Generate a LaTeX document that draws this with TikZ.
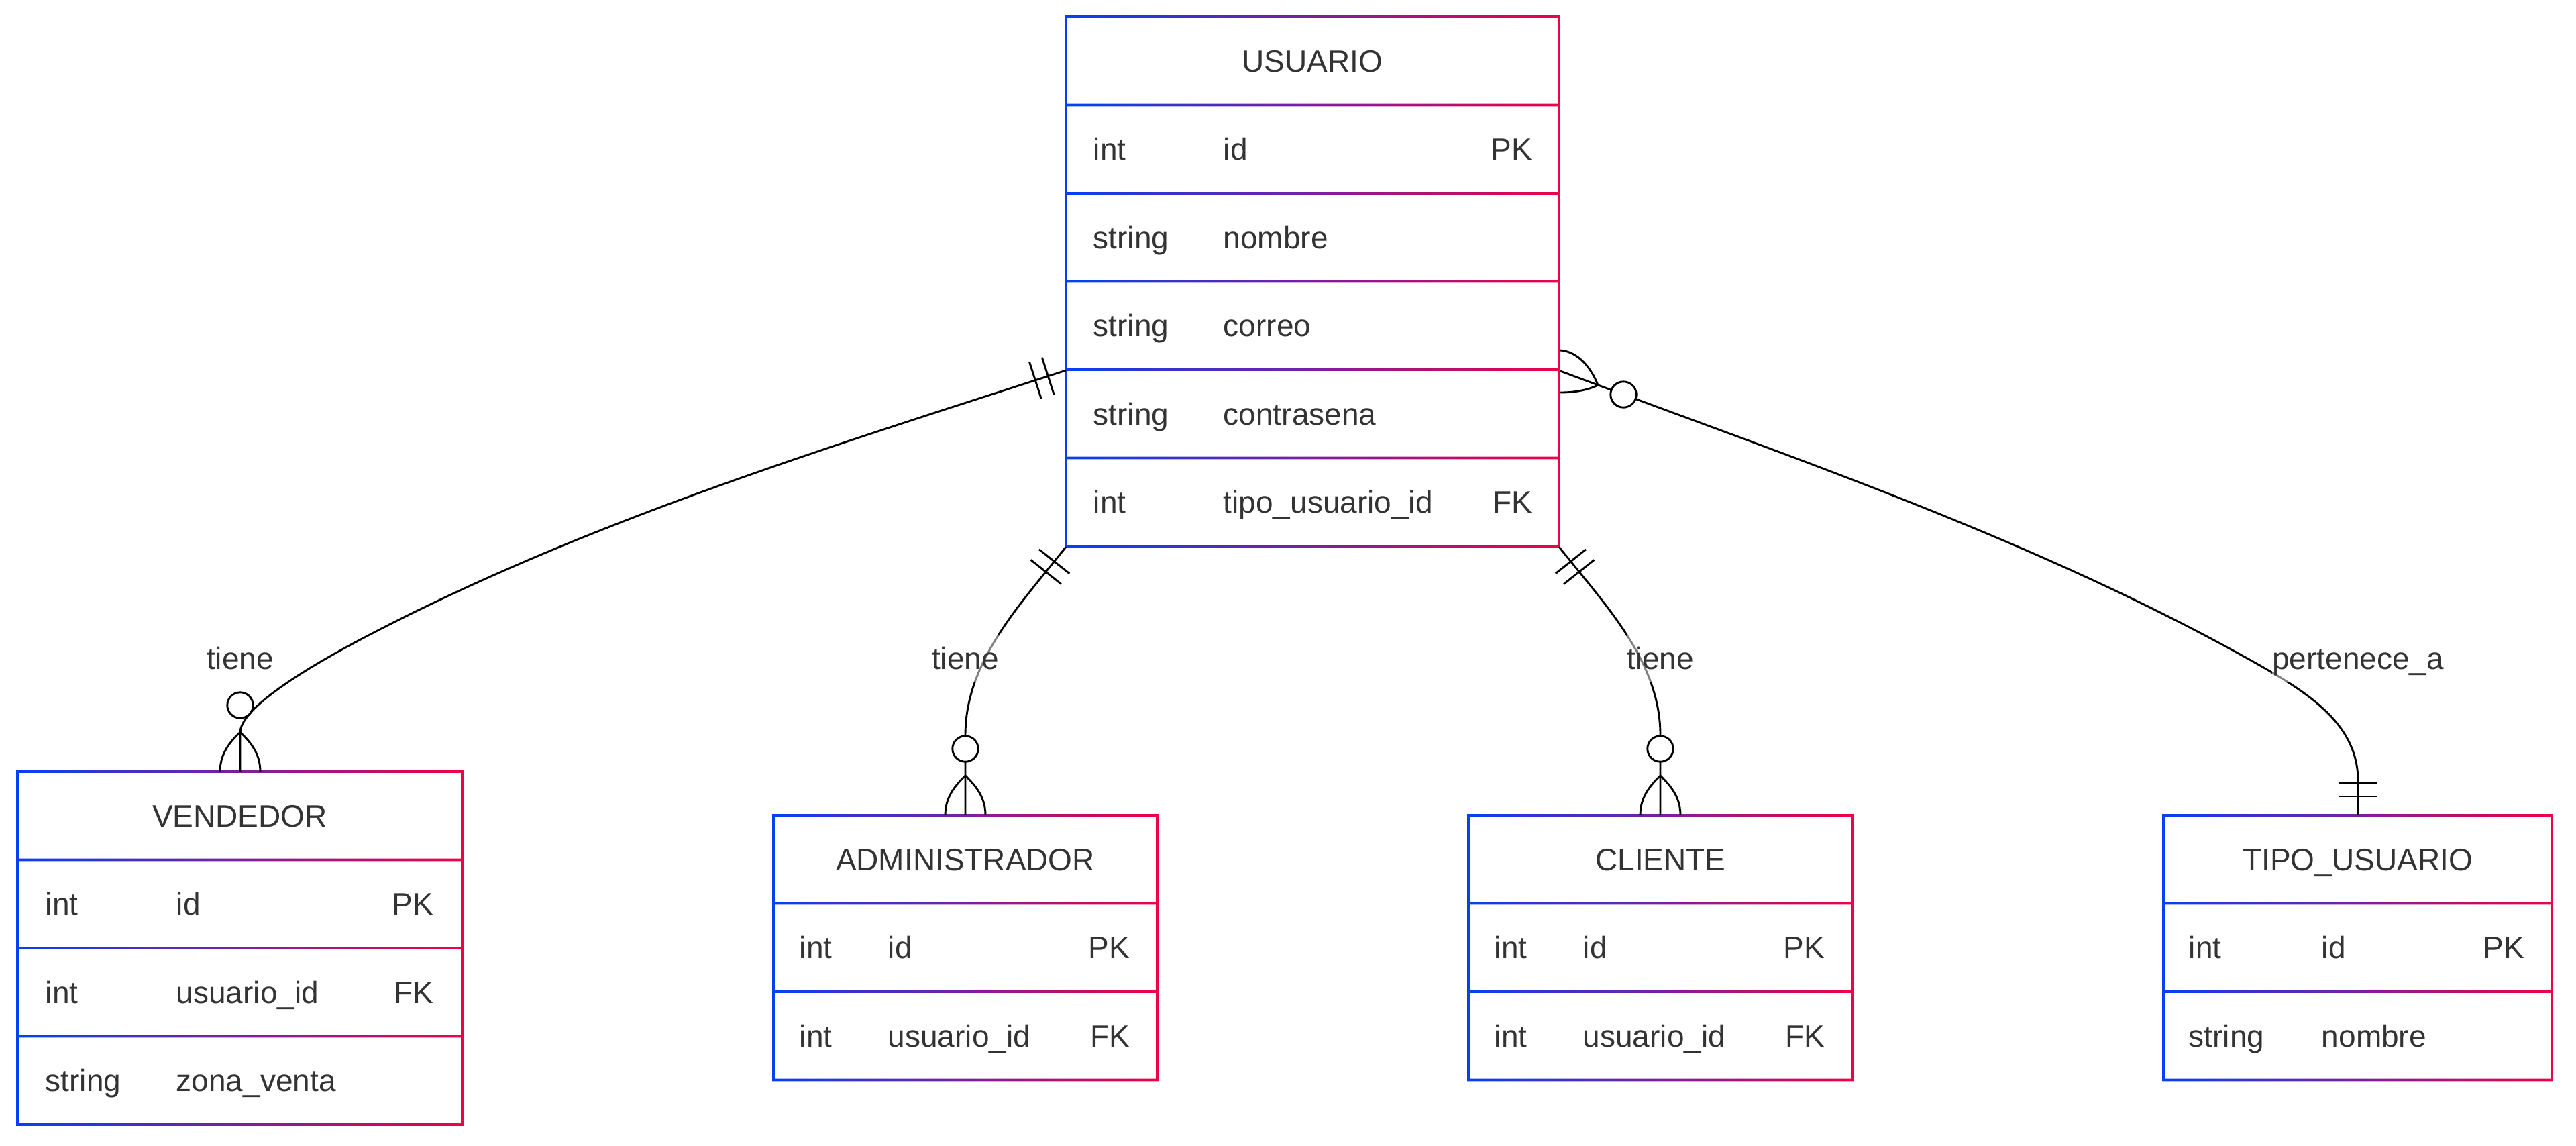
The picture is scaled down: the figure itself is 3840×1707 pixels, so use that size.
\documentclass[tikz,border=0pt]{standalone}
\usepackage{fontspec}
\setmainfont{Liberation Sans}
\definecolor{inkgray}{HTML}{333333}
\definecolor{erblue}{RGB}{5,64,245}
\definecolor{erred}{RGB}{240,0,70}

% frame of an entity table: #1 left, #2 right, #3 top, #4 number of rows (header included)
\newcommand{\erframe}[4]{%
  \fill[white] (#1,#3) rectangle (#2,{#3+131.5*#4});
  \shade[left color=erblue, right color=erred]
    ({#1-1.8},{#3-1.8}) rectangle ({#1+1.8},{#3+131.5*#4+1.8})
    ({#2-1.8},{#3-1.8}) rectangle ({#2+1.8},{#3+131.5*#4+1.8})
    foreach \rowi in {0,...,#4} {({#1-1.8},{#3+131.5*\rowi-1.8}) rectangle ({#2+1.8},{#3+131.5*\rowi+1.8})};
}
% one attribute row: #1 name prefix, #2 row index, #3 type, #4 attribute, #5 key
\newcommand{\erfield}[5]{%
  \node[cell, anchor=base west] (#1-type) at ({\entL+\entA},{\entT+131.5*#2+82.25}) {#3};
  \node[cell, anchor=base west] (#1-name) at ({\entL+\entB},{\entT+131.5*#2+82.25}) {#4};
  \node[cell, anchor=base east] (#1-key) at ({\entR-\entC},{\entT+131.5*#2+82.25}) {#5};
}
\newcommand{\ertitle}[2]{%
  \node[cell, anchor=base] (#1) at ({(\entL+\entR)/2},{\entT+82.25}) {#2};
}
% crow's foot opening downwards onto a table top: #1 centre x, #2 table top y
\newcommand{\crowdown}[2]{%
  \draw[relation] ({#1-30},#2) .. controls ({#1-30},{#2-29.5}) and ({#1-12},{#2-47}) .. ({#1},{#2-59})
                  ({#1+30},#2) .. controls ({#1+30},{#2-29.5}) and ({#1+12},{#2-47}) .. ({#1},{#2-59});
}

\begin{document}
\begin{tikzpicture}[x=0.25pt, y=-0.25pt,
  cell/.style={inner sep=0pt, text=inkgray, font=\fontsize{11.5pt}{13.8pt}\selectfont},
  relation/.style={draw=black, line width=0.72pt},
  knot/.style={circle, draw=black, fill=white, line width=0.72pt, minimum size=9.6pt, inner sep=0pt},
  lbl/.style={inner sep=0pt, fill=white, fill opacity=0.5, text opacity=1, text=inkgray,
              font=\fontsize{11.5pt}{13.8pt}\selectfont}]

\useasboundingbox (0,0) rectangle (3840,1707);
\fill[white] (0,0) rectangle (3840,1707);

% ---------- USUARIO ----------
\def\entL{1589}\def\entR{2324}\def\entT{25}\def\entA{40}\def\entB{234}\def\entC{39}
\erframe{\entL}{\entR}{\entT}{6}
\ertitle{usuario}{USUARIO}
\erfield{u1}{1}{int}{id}{PK}
\erfield{u2}{2}{string}{nombre}{}
\erfield{u3}{3}{string}{correo}{}
\erfield{u4}{4}{string}{contrasena}{}
\erfield{u5}{5}{int}{tipo\_usuario\_id}{FK}

% ---------- VENDEDOR ----------
\def\entL{26}\def\entR{689}\def\entT{1150}\def\entA{41}\def\entB{236}\def\entC{42}
\erframe{\entL}{\entR}{\entT}{4}
\ertitle{vendedor}{VENDEDOR}
\erfield{v1}{1}{int}{id}{PK}
\erfield{v2}{2}{int}{usuario\_id}{FK}
\erfield{v3}{3}{string}{zona\_venta}{}

% ---------- ADMINISTRADOR ----------
\def\entL{1153}\def\entR{1725}\def\entT{1215}\def\entA{38}\def\entB{170}\def\entC{40}
\erframe{\entL}{\entR}{\entT}{3}
\ertitle{administrador}{ADMINISTRADOR}
\erfield{a1}{1}{int}{id}{PK}
\erfield{a2}{2}{int}{usuario\_id}{FK}

% ---------- CLIENTE ----------
\def\entL{2189}\def\entR{2762}\def\entT{1215}\def\entA{38}\def\entB{170}\def\entC{41}
\erframe{\entL}{\entR}{\entT}{3}
\ertitle{cliente}{CLIENTE}
\erfield{c1}{1}{int}{id}{PK}
\erfield{c2}{2}{int}{usuario\_id}{FK}

% ---------- TIPO_USUARIO ----------
\def\entL{3225}\def\entR{3804}\def\entT{1215}\def\entA{37}\def\entB{235}\def\entC{40}
\erframe{\entL}{\entR}{\entT}{3}
\ertitle{tipousuario}{TIPO\_USUARIO}
\erfield{t1}{1}{int}{id}{PK}
\erfield{t2}{2}{string}{nombre}{}

% ---------- attachment points ----------
\coordinate (uW)   at (1589,552);
\coordinate (uE)   at (2326,553);
\coordinate (uSW)  at (1589,815);
\coordinate (uSE)  at (2324,815);
\coordinate (venN) at (358,1150);
\coordinate (admN) at (1439,1215);
\coordinate (cliN) at (2475,1215);
\coordinate (tipN) at (3515,1215);

% ---------- relationships ----------
\draw[relation] (uW) .. controls (1237,666) and (877,776) .. (549,947)
                     .. controls (434,1007) and (358,1060) .. (358,1092) -- (venN);
\draw[relation] (uSW) .. controls (1521,901) and (1439,985) .. (1439,1096) -- (admN);
\draw[relation] (uSE) .. controls (2392,901) and (2475,985) .. (2475,1096) -- (cliN);
\draw[relation] (uE) .. controls (2668,681) and (3017,798) .. (3337,974)
                     .. controls (3433,1027) and (3515,1074) .. (3515,1164) -- (tipN);

% exactly-one bars on USUARIO
\draw[relation] (1571.2,588.2) -- (1553.4,532.9) (1552.2,594.3) -- (1534.4,539.1);
\draw[relation] (1594.2,854.8) -- (1549,818.8) (1581.8,870.4) -- (1536.6,834.4);
\draw[relation] (2364,818.8) -- (2318.8,854.8) (2376.4,834.4) -- (2331.2,870.4);
% exactly-one bars on TIPO_USUARIO
\draw[relation] (3486,1187) -- (3544,1187) (3486,1167) -- (3544,1167);

% zero-or-more crow's feet
\crowdown{358}{1150}
\crowdown{1439}{1215}
\crowdown{2475}{1215}
\draw[relation] (2326,522) .. controls (2352,524) and (2372,548) .. (2382,574)
                (2326,585) .. controls (2345,585) and (2366,582) .. (2382,574);
\node[knot] (venO) at (358,1051) {};
\node[knot] (admO) at (1439,1116) {};
\node[knot] (cliO) at (2475,1116) {};
\node[knot] (tipO) at (2420,588) {};

% relationship labels
\node[lbl, anchor=base] (relVen) at (358,997)  {\rule[-5pt]{0pt}{17.5pt}tiene};
\node[lbl, anchor=base] (relAdm) at (1439,997) {\rule[-5pt]{0pt}{17.5pt}tiene};
\node[lbl, anchor=base] (relCli) at (2475,997) {\rule[-5pt]{0pt}{17.5pt}tiene};
\node[lbl, anchor=base] (relTip) at (3515,997) {\rule[-5pt]{0pt}{17.5pt}pertenece\_a};

\end{tikzpicture}
\end{document}
